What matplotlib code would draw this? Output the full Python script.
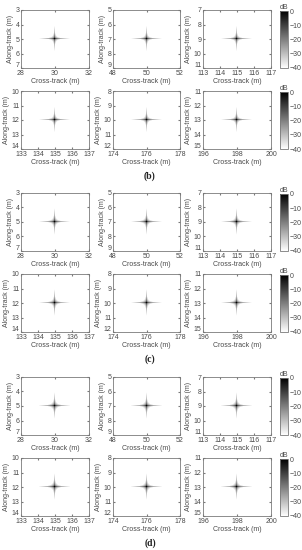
import numpy as np
import matplotlib
matplotlib.use("Agg")
import matplotlib.pyplot as plt
import matplotlib.transforms as mtransforms

INK = "#4a4a4a"
plt.rcParams.update({"font.family": "Liberation Sans", "font.size": 5,
    "axes.edgecolor": "#7a7a7a", "axes.labelcolor": INK, "text.color": INK,
    "xtick.color": "#7a7a7a", "ytick.color": "#7a7a7a",
    "xtick.labelcolor": INK, "ytick.labelcolor": INK,
    "xtick.direction": "in", "ytick.direction": "in",
    "xtick.major.size": 1.5, "ytick.major.size": 1.5,
    "xtick.major.pad": 1.5, "ytick.major.pad": 1, "axes.linewidth": 0.6})

# point targets (cross-track, along-track) in metres, two rows of three
tgt_x = [30, 50, 115, 135, 176, 198]
tgt_y = [5, 7, 9, 12, 10, 13]
xticks = [[28, 30, 32], [48, 50, 52], [113, 114, 115, 116, 117],
          [133, 134, 135, 136, 137], [174, 176, 178], [196, 198, 200]]
yticks = [[3, 4, 5, 6, 7], [5, 6, 7, 8, 9], [7, 8, 9, 10, 11],
          [10, 11, 12, 13, 14], [8, 9, 10, 11, 12], [11, 12, 13, 14, 15]]
groups = ["(b)", "(c)", "(d)"]
# resolution (m) of the focused response per group
res_x = [0.055, 0.055, 0.060]
res_y = [0.050, 0.055, 0.055]
span = 0.8  # extent (m) of the visible sidelobe arms
cbar_ticks = [0, -10, -20, -30, -40]

W, H = 302, 550
fig = plt.figure(figsize=(W / 100, H / 100), dpi=100)
fig.patch.set_facecolor("white")

def box(x0, y0, x1, y1):
    return [x0 / W, 1 - y1 / H, (x1 - x0) / W, (y1 - y0) / H]

col_x = [(21, 89), (113, 180), (203, 271)]
group_top = [10, 193, 377]
row_off = [0, 81]
ph = 58
lift = mtransforms.ScaledTranslation(0, 2.5 / 72, fig.dpi_scale_trans)

# sample grid at about the display pixel size, centre on a sample
nx, ny = 69, 59
ux = np.linspace(-2, 2, nx)
uy = np.linspace(-2, 2, ny)
dx, dy = ux[1] - ux[0], uy[1] - uy[0]
UX, UY = np.meshgrid(ux, uy)
for g, lab in enumerate(groups):
    # sinc^2 envelope of the impulse response along each axis, tapered
    px = np.exp(-(UX / span) ** 2) / (1.0 + (np.pi * UX / res_x[g]) ** 2)
    py = np.exp(-(UY / span) ** 2) / (1.0 + (np.pi * UY / res_y[g]) ** 2)
    img = 10 * np.log10(px * py)
    for k in range(6):
        r, c = divmod(k, 3)
        y0 = group_top[g] + row_off[r]
        ax = fig.add_axes(box(col_x[c][0], y0, col_x[c][1], y0 + ph))
        xs, ys = tgt_x[k], tgt_y[k]
        im = ax.imshow(img, cmap="gray_r", vmin=-40, vmax=0, aspect="auto",
                       extent=[xs - 2 - dx / 2, xs + 2 + dx / 2,
                               ys + 2 + dy / 2, ys - 2 - dy / 2],
                       interpolation="nearest")
        ax.set_xlim(xs - 2, xs + 2)
        ax.set_ylim(ys + 2, ys - 2)
        ax.set_xticks(xticks[k])
        ax.set_yticks(yticks[k])
        ax.tick_params(top=True, right=True, labelsize=5)
        # bottom along-track label sits just above the corner, as in the source
        last = ax.get_yticklabels()[-1]
        last.set_transform(last.get_transform() + lift)
        ax.set_xlabel("Cross-track (m)", labelpad=1)
        ax.set_ylabel("Along-track (m)", labelpad=1)
        if c == 2:
            cax = fig.add_axes(box(280, y0 + 1, 288, y0 + ph))
            cb = fig.colorbar(im, cax=cax, ticks=cbar_ticks)
            cb.outline.set_edgecolor("#7a7a7a")
            cb.outline.set_linewidth(0.6)
            cax.tick_params(labelsize=5, length=0, pad=1)
            cax.set_title("dB", fontsize=5, pad=1)
    fig.text(150 / W, 1 - (group_top[g] + 166) / H, lab, ha="center",
             va="center", fontsize=7, fontweight="bold", family="Liberation Serif",
             color="#222222")

fig.savefig("out.png", dpi=100, facecolor="white")
